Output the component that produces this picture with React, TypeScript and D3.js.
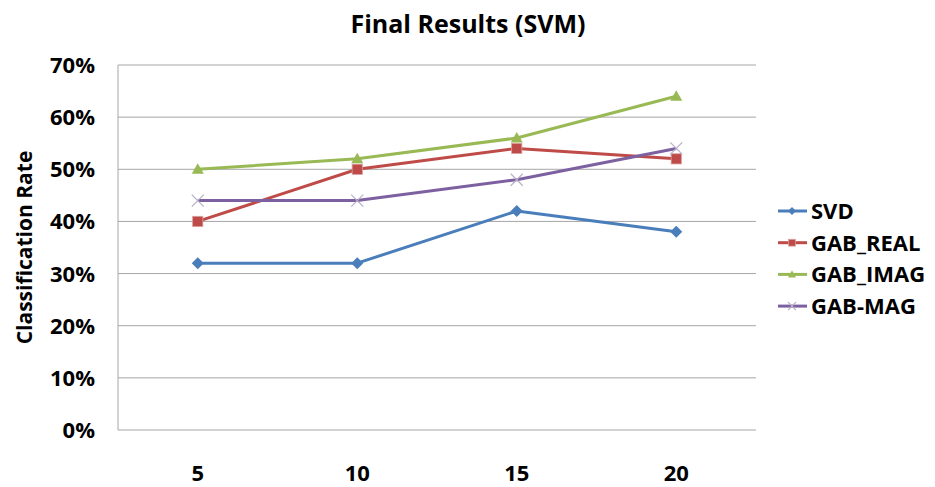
import React from 'react';
import * as d3 from 'd3';

const categories = ['5', '10', '15', '20'];
const seriesNames = ['SVD', 'GAB_REAL', 'GAB_IMAG', 'GAB-MAG'];
const svdValues = [0.32, 0.32, 0.42, 0.38];
const gabRealValues = [0.40, 0.50, 0.54, 0.52];
const gabImagValues = [0.50, 0.52, 0.56, 0.64];
const gabMagValues = [0.44, 0.44, 0.48, 0.54];
const yTicks = [0, 0.1, 0.2, 0.3, 0.4, 0.5, 0.6, 0.7];

const colors = ['#4A7EBB', '#BE4B48', '#98B954', '#7D60A0'];
const shapes = ['diamond', 'square', 'triangle', 'x'];
const FONT = '"Open Sans", "DejaVu Sans", sans-serif';

function Marker({ shape, x, y, color, s }: { shape: string; x: number; y: number; color: string; s: number }) {
  if (shape === 'diamond') {
    return <path d={`M${x},${y - s}L${x + s},${y}L${x},${y + s}L${x - s},${y}Z`} fill={color} />;
  }
  if (shape === 'square') {
    return <rect x={x - s * 0.85} y={y - s * 0.85} width={s * 1.7} height={s * 1.7} fill={color} stroke="#d9a09e" strokeWidth={0.8} />;
  }
  if (shape === 'triangle') {
    return <path d={`M${x},${y - s}L${x + s},${y + s * 0.75}L${x - s},${y + s * 0.75}Z`} fill={color} />;
  }
  return (
    <path
      d={`M${x - s},${y - s}L${x + s},${y + s}M${x - s},${y + s}L${x + s},${y - s}`}
      stroke="#b7aec8"
      strokeWidth={1.2}
      fill="none"
    />
  );
}

export default function App() {
  const width = 935;
  const height = 487;
  const margin = { top: 65, right: 179, bottom: 57, left: 118 };

  const x = d3.scaleBand().domain(categories).range([margin.left, width - margin.right]);
  const y = d3.scaleLinear().domain([0, 0.7]).range([height - margin.bottom, margin.top]);

  const allSeries = [svdValues, gabRealValues, gabImagValues, gabMagValues];
  const line = d3
    .line<number>()
    .x((_, i) => (x(categories[i]) as number) + x.bandwidth() / 2)
    .y(d => y(d));

  return (
    <svg
      width={width}
      height={height}
      style={{ position: 'absolute', left: 0, top: 0, background: '#fff' }}
      fontFamily={FONT}
    >
      <text x={468} y={33} textAnchor="middle" fontSize={25} fontWeight={700} fill="#000">
        Final Results (SVM)
      </text>

      {/* gridlines */}
      {yTicks.map(t => (
        <line
          key={t}
          x1={margin.left}
          x2={width - margin.right}
          y1={y(t)}
          y2={y(t)}
          stroke="#a6a6a6"
          strokeWidth={1}
        />
      ))}
      <line x1={margin.left} x2={margin.left} y1={y(0.7)} y2={y(0)} stroke="#a6a6a6" strokeWidth={1} />

      {/* y labels */}
      {yTicks.map(t => (
        <text key={t} x={95} y={y(t) + 8} textAnchor="end" fontSize={22} fontWeight={700} fill="#000">
          {d3.format('.0%')(t)}
        </text>
      ))}
      <text
        transform={`translate(32,${(y(0) + y(0.7)) / 2}) rotate(-90)`}
        textAnchor="middle"
        fontSize={21}
        fontWeight={700}
        fill="#000"
      >
        Classification Rate
      </text>

      {/* x labels */}
      {categories.map(c => (
        <text
          key={c}
          x={(x(c) as number) + x.bandwidth() / 2}
          y={481}
          textAnchor="middle"
          fontSize={22}
          fontWeight={700}
          fill="#000"
        >
          {c}
        </text>
      ))}

      {/* series */}
      {allSeries.map((vals, si) => (
        <g key={si}>
          <path d={line(vals) || ''} fill="none" stroke={colors[si]} strokeWidth={3} strokeLinejoin="round" />
          {vals.map((v, i) => (
            <Marker
              key={i}
              shape={shapes[si]}
              x={(x(categories[i]) as number) + x.bandwidth() / 2}
              y={y(v)}
              color={colors[si]}
              s={6}
            />
          ))}
        </g>
      ))}

      {/* legend */}
      {seriesNames.map((name, i) => {
        const ly = 211 + i * 31.7;
        return (
          <g key={name}>
            <line x1={778} x2={807} y1={ly} y2={ly} stroke={colors[i]} strokeWidth={3} />
            <Marker shape={shapes[i]} x={792} y={ly} color={colors[i]} s={4} />
            <text x={811} y={ly + 8} fontSize={22} fontWeight={700} fill="#000">
              {name}
            </text>
          </g>
        );
      })}
    </svg>
  );
}
